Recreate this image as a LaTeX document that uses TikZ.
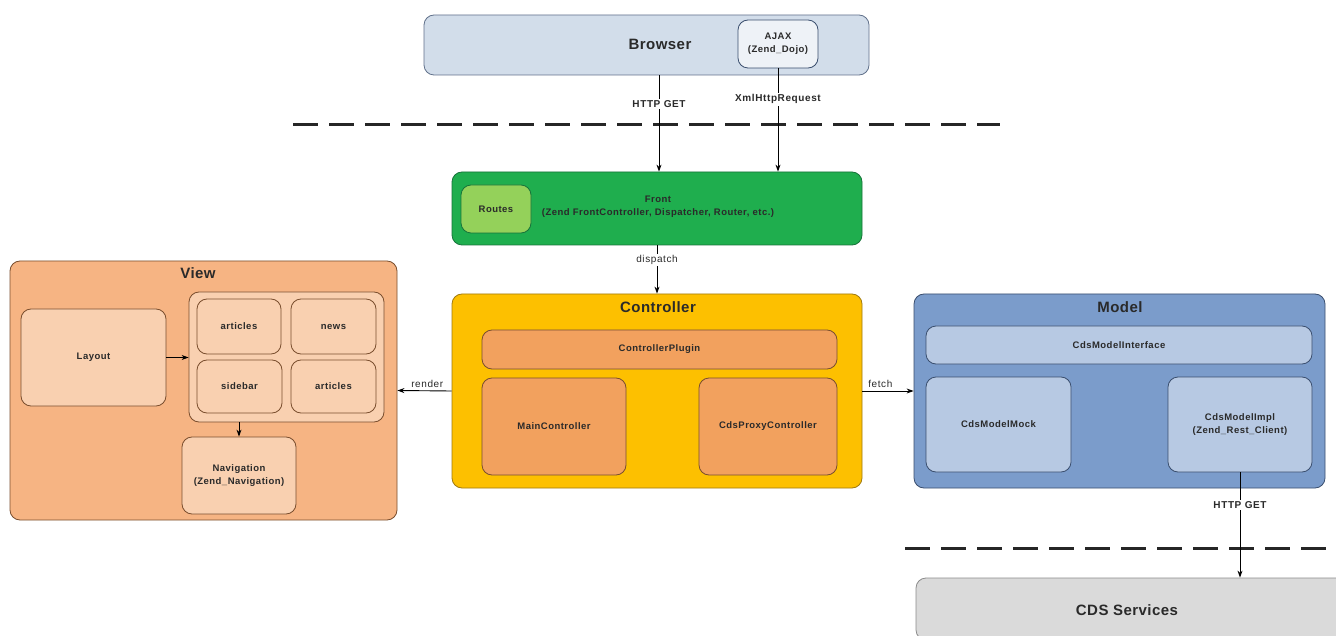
\documentclass[tikz,border=0pt]{standalone}
\usepackage{fontspec}
\setmainfont{Liberation Sans}
\newfontfamily\boxfont[LetterSpace=5]{Liberation Sans}
\newfontfamily\labelfont[LetterSpace=6]{Liberation Sans}
\newfontfamily\headfont[LetterSpace=3]{Liberation Sans}
\usetikzlibrary{arrows.meta}
\definecolor{browserfill}{HTML}{D2DDEA}
\definecolor{ajaxfill}{HTML}{EEF2F7}
\definecolor{frontfill}{HTML}{1FAE4E}
\definecolor{frontline}{HTML}{17733A}
\definecolor{routesfill}{HTML}{94D15A}
\definecolor{ctrlfill}{HTML}{FDC000}
\definecolor{ctrlline}{HTML}{A07A10}
\definecolor{ctrlinner}{HTML}{F2A15E}
\definecolor{viewfill}{HTML}{F6B483}
\definecolor{viewinner}{HTML}{F9D0B0}
\definecolor{brownline}{HTML}{7A4E2E}
\definecolor{modelfill}{HTML}{7B9CCB}
\definecolor{modelinner}{HTML}{B7C9E3}
\definecolor{blueline}{HTML}{3A4E6E}
\definecolor{cdsfill}{HTML}{DADADA}
\definecolor{txt}{HTML}{2A2A2A}
\tikzset{
  box/.style={draw, rounded corners=10pt, inner sep=0pt, line width=0.8pt, text=txt,
              align=center, font=\boxfont\bfseries\fontsize{9.5}{13}\selectfont},
  title/.style={text=txt, font=\headfont\bfseries\fontsize{15}{17}\selectfont, inner sep=0pt},
  lbl/.style={text=txt, font=\labelfont\fontsize{10}{11}\selectfont, inner sep=1pt},
  blbl/.style={text=txt, font=\labelfont\bfseries\fontsize{10}{11}\selectfont, fill=white, inner sep=1.5pt},
  arr/.style={draw=black, line width=0.9pt, -{Stealth[length=7pt,width=5pt]}},
  sep/.style={draw=black!85, line width=3pt, dash pattern=on 25pt off 11pt},
}
\begin{document}
\begin{tikzpicture}[x=1pt,y=-1pt]
\useasboundingbox (0,0) rectangle (1336,636);
\fill[white] (0,0) rectangle (1336,636);
\begin{scope}
\clip (0,0) rectangle (1336,636);

% tier separators
\draw[sep] (293,125) -- (1000,125);
\draw[sep] (905,548) -- (1340,548);

% browser tier
\node[box, fill=browserfill, draw=blueline!80, minimum width=445pt, minimum height=60pt] (browser) at (646.5,45) {};
\node[title] (browsertxt) at (660,44) {Browser};
\node[box, fill=ajaxfill, draw=blueline, minimum width=80pt, minimum height=48pt] (ajax) at (778,44) {AJAX\\(Zend\_Dojo)};

% front controller
\node[box, fill=frontfill, draw=frontline, minimum width=410pt, minimum height=73pt] (front) at (657,208.5) {};
\node[box, draw=none, fill=none] (fronttxt) at (658,207) {Front\\(Zend FrontController, Dispatcher, Router, etc.)};
\node[box, fill=routesfill, draw=frontline, minimum width=70pt, minimum height=48pt] (routes) at (496,209) {Routes};

% controller
\node[box, fill=ctrlfill, draw=ctrlline, minimum width=410pt, minimum height=194pt] (ctrl) at (657,391) {};
\node[title] (ctrltitle) at (658,307) {Controller};
\node[box, fill=ctrlinner, draw=brownline, minimum width=355pt, minimum height=39pt] (plugin) at (659.5,349.5) {ControllerPlugin};
\node[box, fill=ctrlinner, draw=brownline, minimum width=144pt, minimum height=97pt] (mainctrl) at (554,426.5) {MainController};
\node[box, fill=ctrlinner, draw=brownline, minimum width=138pt, minimum height=97pt] (proxyctrl) at (768,426.5) {CdsProxyController};

% view
\node[box, fill=viewfill, draw=brownline, minimum width=387pt, minimum height=259pt] (view) at (203.5,390.5) {};
\node[title] (viewtitle) at (198,273) {View};
\node[box, fill=viewinner, draw=brownline, minimum width=145pt, minimum height=97pt] (layout) at (93.5,357.5) {Layout};
\node[box, fill=viewinner, draw=brownline, minimum width=195pt, minimum height=130pt] (slots) at (286.5,357) {};
\node[box, fill=viewinner, draw=brownline, minimum width=84pt, minimum height=55pt] (articlesA) at (239,326.5) {articles};
\node[box, fill=viewinner, draw=brownline, minimum width=85pt, minimum height=55pt] (news) at (333.5,326.5) {news};
\node[box, fill=viewinner, draw=brownline, minimum width=85pt, minimum height=53pt] (sidebar) at (239.5,386.5) {sidebar};
\node[box, fill=viewinner, draw=brownline, minimum width=85pt, minimum height=53pt] (articlesB) at (333.5,386.5) {articles};
\node[box, fill=viewinner, draw=brownline, minimum width=114pt, minimum height=77pt] (nav) at (239,475.5) {Navigation\\(Zend\_Navigation)};

% model
\node[box, fill=modelfill, draw=blueline, minimum width=411pt, minimum height=194pt] (model) at (1119.5,391) {};
\node[title] (modeltitle) at (1120,307) {Model};
\node[box, fill=modelinner, draw=blueline, minimum width=386pt, minimum height=38pt] (iface) at (1119,345) {CdsModelInterface};
\node[box, fill=modelinner, draw=blueline, minimum width=145pt, minimum height=95pt] (mock) at (998.5,424.5) {CdsModelMock};
\node[box, fill=modelinner, draw=blueline, minimum width=144pt, minimum height=95pt] (impl) at (1240,424.5) {CdsModelImpl\\(Zend\_Rest\_Client)};

% external services
\node[box, fill=cdsfill, draw=black!45, minimum width=430pt, minimum height=62pt] (cds) at (1131,609) {};
\node[title] (cdstxt) at (1127,610) {CDS Services};

% connectors
\coordinate (httpsrc) at ([xshift=12.5pt]browser.south);
\draw[arr] (httpsrc) -- (httpsrc |- front.north) node[blbl, pos=0.3] {HTTP GET};
\draw[arr] (ajax.south) -- (ajax.south |- front.north) node[blbl, pos=0.3] {XmlHttpRequest};
\draw[arr] (front.south) -- (ctrl.north) node[lbl, fill=white, pos=0.3] {dispatch};
\draw[arr] (ctrl.west) -- (view.east) node[lbl, pos=0.45, above=2pt] {render};
\draw[arr] (ctrl.east) -- (model.west) node[lbl, pos=0.35, above=2pt] {fetch};
\draw[arr] (layout.east) -- (layout.east -| slots.west);
\draw[arr] (nav.north |- slots.south) -- (nav.north);
\draw[arr] (impl.south) -- (impl.south |- cds.north) node[blbl, pos=0.31] {HTTP GET};
\end{scope}
\end{tikzpicture}
\end{document}
